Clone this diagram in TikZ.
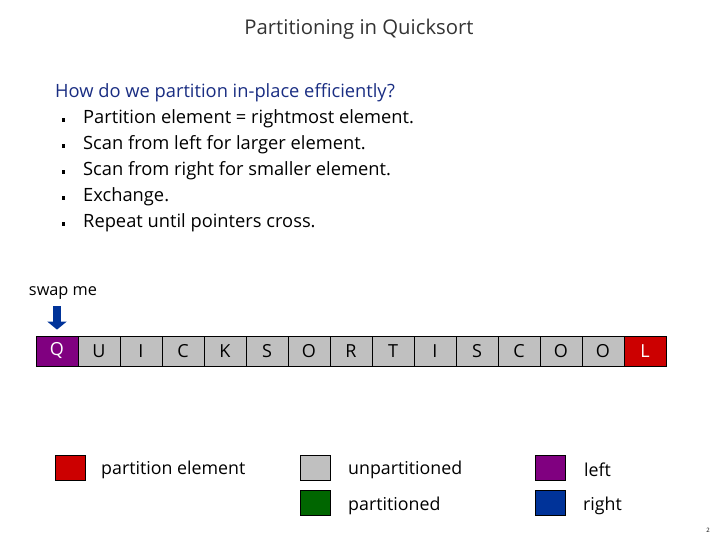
\documentclass[tikz,border=0pt]{standalone}
\usepackage{fontspec}
\setmainfont{Open Sans}
\usetikzlibrary{arrows.meta}
\definecolor{cred}{RGB}{204,0,0}
\definecolor{cgray}{RGB}{192,192,192}
\definecolor{cgreen}{RGB}{0,102,0}
\definecolor{cpurple}{RGB}{128,0,128}
\definecolor{cblue}{RGB}{0,51,153}
\definecolor{chead}{RGB}{25,45,130}
\definecolor{ctitle}{RGB}{51,51,51}
\tikzset{
  cell/.style={draw=black, line width=0.8pt, minimum width=42pt, minimum height=30pt, inner sep=0pt, font=\fontsize{18}{21}\selectfont},
  legbox/.style={draw=black, line width=0.8pt, minimum width=30pt, minimum height=25pt, inner sep=0pt},
  legtext/.style={anchor=west, inner sep=0pt, font=\fontsize{17.8}{21}\selectfont},
  bodytext/.style={anchor=west, inner sep=0pt, font=\fontsize{18.3}{21}\selectfont},
  bulletmark/.style={fill=black, minimum width=3pt, minimum height=3.5pt, inner sep=0pt},
}
\begin{document}
\begin{tikzpicture}[x=1pt, y=-1pt]
\useasboundingbox (0,0) rectangle (720,540);
\node[font=\fontsize{20.3}{24}\selectfont, text=ctitle] (title) at (359,29.5) {Partitioning in Quicksort};
\node[bodytext, text=chead] (head) at (55,93) {How do we partition in-place efficiently?};
\foreach \i/\t in {1/{Partition element = rightmost element.},2/{Scan from left for larger element.},3/{Scan from right for smaller element.},4/{Exchange.},5/{Repeat until pointers cross.}}{
  \node[bulletmark] (b\i) at (63,{93+26*\i+1}) {};
  \node[bodytext] (t\i) at (83,{93+26*\i}) {\t};
}
% array
\foreach \l [count=\i from 0] in {Q,U,I,C,K,S,O,R,T,I,S,C,O,O,L}{
  \node[cell, fill=cgray] (c\i) at ({57+42*\i},351) {\l};
}
\node[cell, fill=cpurple, text=white] (c0) at (57,351) {Q};
\node[cell, fill=cred, text=white] (c14) at ({57+42*14},351) {L};
\node[font=\fontsize{16.3}{19}\selectfont, inner sep=0pt] (swap) at (63,293) {swap me};
\coordinate (arrtop) at (57,306);
\draw[cblue, line width=8pt, -{Triangle[length=8pt,width=19pt]}, shorten >=6pt] (arrtop) -- (c0.north);
% legend
\node[legbox, fill=cred] (lred) at (70,468) {};
\node[legtext] (tred) at (101,469.5) {partition element};
\node[legbox, fill=cgray] (lgray) at (315,468) {};
\node[legtext] (tgray) at (348,469.5) {unpartitioned};
\node[legbox, fill=cgreen] (lgreen) at (315,503) {};
\node[legtext] (tgreen) at (348,505.5) {partitioned};
\node[legbox, fill=cpurple] (lpurple) at (550,468) {};
\node[legtext] (tpurple) at (584,469.5) {left};
\node[legbox, fill=cblue] (lblue) at (550,503) {};
\node[legtext] (tblue) at (583,505.5) {right};
\node[font=\fontsize{6}{7}\selectfont, inner sep=0pt] (pnum) at (708,530) {2};
\end{tikzpicture}
\end{document}
